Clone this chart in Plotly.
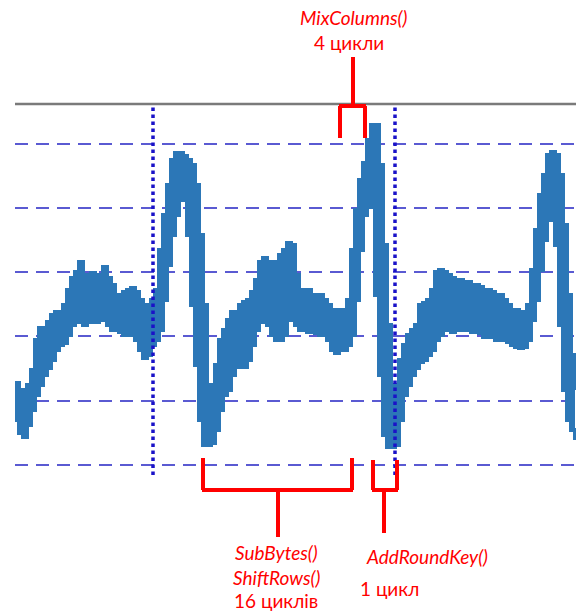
import plotly.graph_objects as go

# Power trace, arbitrary units (grid step = 64.3).
# The trace is a dense noisy signal: upper and lower envelope per sample (every 4 time units)
power_hi = [
    82, 75, 70, 80, 95, 125, 137, 137, 143, 150,
    153, 153, 160, 175, 187, 193, 203, 190, 187, 192,
    185, 190, 198, 187, 180, 170, 165, 173, 175, 177,
    173, 165, 160, 160, 165, 175, 215, 250, 280, 305,
    312, 312, 309, 305, 300, 280, 230, 160, 80, 60,
    100, 125, 135, 145, 153, 153, 160, 163, 165, 173,
    185, 203, 207, 203, 197, 203, 210, 215, 222, 220,
    190, 175, 173, 175, 170, 167, 170, 165, 160, 155,
    153, 155, 155, 165, 215, 255, 285, 302, 325, 340,
    340, 300, 220, 140, 80, 75, 105, 120, 130, 135,
    140, 160, 162, 165, 175, 193, 195, 193, 190, 187,
    185, 185, 182, 183, 180, 180, 178, 175, 175, 173,
    167, 170, 165, 160, 155, 155, 153, 153, 160, 195,
    235, 270, 290, 310, 313, 310, 290, 240, 170, 110,
    75,
]
power_lo = [
    45, 32, 28, 40, 55, 70, 80, 90, 97, 105,
    115, 120, 122, 130, 140, 143, 145, 140, 143, 143,
    143, 147, 145, 140, 135, 135, 133, 130, 132, 130,
    125, 115, 107, 110, 120, 125, 135, 165, 200, 230,
    250, 270, 265, 230, 160, 100, 45, 20, 20, 22,
    35, 55, 70, 75, 90, 100, 98, 98, 105, 120,
    135, 143, 145, 140, 130, 125, 125, 130, 145, 153,
    140, 135, 135, 133, 135, 132, 130, 130, 125, 115,
    112, 117, 115, 120, 130, 165, 215, 250, 258, 258,
    170, 90, 30, 18, 18, 20, 45, 70, 80, 90,
    97, 103, 105, 110, 115, 125, 130, 135, 135, 133,
    140, 135, 137, 135, 133, 135, 132, 128, 130, 128,
    125, 127, 125, 123, 120, 118, 117, 118, 125, 145,
    165, 195, 225, 245, 255, 220, 140, 75, 45, 35,
    25,
]
n = min(len(power_hi), len(power_lo))
samples = [4 * i for i in range(n)]

# Round boundaries (sample index) and annotation labels
boundaries = [138, 380]
labels_top = ["MixColumns()", "4 цикли"]
labels_sub = ["SubBytes()", "ShiftRows()", "16 циклів"]
labels_ark = ["AddRoundKey()", "1 цикл"]

BLUE = "#2c77b7"
RED = "#ff0000"
FONT = "Lato"

fig = go.Figure()
fig.add_trace(go.Scatter(
    x=samples, y=power_lo[:n], mode="lines", line_shape="hv",
    line=dict(color=BLUE, width=4), hoverinfo="skip", showlegend=False,
))
fig.add_trace(go.Scatter(
    x=samples, y=power_hi[:n], mode="lines", line_shape="hv",
    line=dict(color=BLUE, width=4), fill="tonexty", fillcolor=BLUE,
    hoverinfo="skip", showlegend=False,
))

shapes = []
# top border line
shapes.append(dict(type="line", xref="paper", yref="paper", x0=0, x1=1, y0=1, y1=1,
                   line=dict(color="#7a7a7a", width=2.5), layer="above"))
# dotted vertical round boundaries
for b in boundaries:
    shapes.append(dict(type="line", xref="x", yref="paper", x0=b, x1=b, y0=0, y1=1,
                       line=dict(color="#1a12c8", width=3.5, dash="dot"), layer="above"))


def bracket(xa, xb, ytip, ybar, ystem, xs):
    out = []
    lw = dict(color=RED, width=4)
    out.append(dict(type="line", xref="x", yref="paper", x0=xa, x1=xa, y0=ytip, y1=ybar, line=lw))
    out.append(dict(type="line", xref="x", yref="paper", x0=xb, x1=xb, y0=ytip, y1=ybar, line=lw))
    out.append(dict(type="line", xref="x", yref="paper", x0=xa - 1, x1=xb + 1, y0=ybar, y1=ybar, line=lw))
    out.append(dict(type="line", xref="x", yref="paper", x0=xs, x1=xs, y0=ybar, y1=ystem, line=lw))
    return out

shapes += bracket(325, 350, 0.9084, 0.9946, 1.1267, 338)
shapes += bracket(188, 337, 0.0458, -0.0404, -0.1671, 263)
shapes += bracket(358, 382, 0.0404, -0.0404, -0.1563, 369)

ann = []
def txt(s, x, y, italic):
    ann.append(dict(text=("<i>%s</i>" % s) if italic else s, x=x, y=y, xref="x", yref="paper",
                    showarrow=False, xanchor="center", yanchor="middle",
                    font=dict(family=FONT, size=19, color=RED)))

txt(labels_top[0], 338, 1.2345, True)
txt(labels_top[1], 334, 1.1671, False)
txt(labels_sub[0], 261, -0.2102, True)
txt(labels_sub[1], 262, -0.2776, True)
txt(labels_sub[2], 261, -0.3396, False)
txt(labels_ark[0], 412, -0.2210, True)
txt(labels_ark[1], 374, -0.3046, False)

fig.update_layout(
    width=576, height=612,
    margin=dict(l=15, r=0, t=104, b=137),
    plot_bgcolor="white", paper_bgcolor="white",
    shapes=shapes, annotations=ann,
    xaxis=dict(range=[0, 561], showgrid=False, zeroline=False, showticklabels=False,
               ticks="", showline=False, fixedrange=True),
    yaxis=dict(range=[-10, 361], tick0=0, dtick=64.3, showgrid=True,
               gridcolor="#5a5ad2", gridwidth=2, griddash="13px,8px",
               zeroline=False, showticklabels=False, ticks="", showline=False, fixedrange=True),
)

fig.write_html("out.html", config={"displayModeBar": False},
               post_script="document.body.style.margin='0';document.body.style.padding='0';"
                           "document.documentElement.style.overflow='hidden';")
